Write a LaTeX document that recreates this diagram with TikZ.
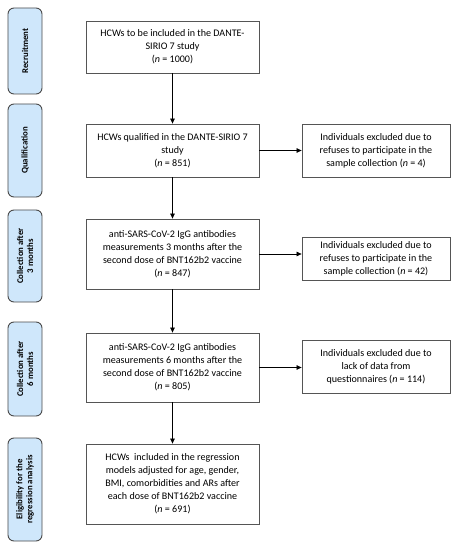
\documentclass[tikz,border=0pt]{standalone}
\usepackage{fontspec}
\setmainfont{Carlito}
\usetikzlibrary{arrows.meta}
\definecolor{sidefill}{HTML}{CFE7FB}
\definecolor{sidedraw}{HTML}{4A4A4A}
\definecolor{boxdraw}{HTML}{555555}
\begin{document}
\begin{tikzpicture}[x=1bp,y=1bp,
  side/.style={draw=sidedraw, line width=0.9bp, fill=sidefill, rounded corners=6bp,
    rotate=90, minimum height=34bp, inner sep=0pt, align=center,
    font=\fontsize{8.8}{10}\selectfont\bfseries},
  mainbox/.style={draw=boxdraw, line width=0.8bp, minimum width=173bp, inner sep=0pt,
    align=center, font=\fontsize{10.1}{13}\selectfont},
  exbox/.style={draw=boxdraw, line width=0.8bp, minimum width=148bp, inner sep=0pt,
    align=center, font=\fontsize{10.1}{13}\selectfont},
  arr/.style={-{Triangle[length=5bp,width=4.5bp]}, line width=0.7bp, black}]
\useasboundingbox (0,0) rectangle (454,-550);
% side labels
\node[side, minimum width=86bp] (s1) at (25,-51) {Recruitment};
\node[side, minimum width=93bp] (s2) at (25,-150.5) {Qualification};
\node[side, minimum width=92bp] (s3) at (25,-256) {Collection after\\3 months};
\node[side, minimum width=94bp] (s4) at (25,-369) {Collection after\\6 months};
\node[side, minimum width=103bp] (s5) at (25,-489.5) {Eligibility for the\\regression analysis};
% main boxes
\node[mainbox, minimum height=52bp] (b1) at (172.5,-47) {HCWs to be included in the DANTE-\\SIRIO 7 study\\(\textit{n} = 1000)};
\node[mainbox, minimum height=53bp] (b2) at (172.5,-150.5) {HCWs qualified in the DANTE-SIRIO 7\\study\\(\textit{n} = 851)};
\node[mainbox, minimum height=70bp] (b3) at (172.5,-254) {anti-SARS-CoV-2 IgG antibodies\\measurements 3 months after the\\second dose of BNT162b2 vaccine\\(\textit{n} = 847)};
\node[mainbox, minimum height=69bp] (b4) at (172.5,-367.5) {anti-SARS-CoV-2 IgG antibodies\\measurements 6 months after the\\second dose of BNT162b2 vaccine\\(\textit{n} = 805)};
\node[mainbox, minimum height=80bp] (b5) at (172.5,-484) {HCWs\ \ included in the regression\\models adjusted for age, gender,\\BMI, comorbidities and ARs after\\each dose of BNT162b2 vaccine\\(\textit{n} = 691)};
% exclusion boxes
\node[exbox, minimum height=53bp] (e1) at (376,-150.5) {Individuals excluded due to\\refuses to participate in the\\sample collection (\textit{n} = 4)};
\node[exbox, minimum height=43bp] (e2) at (376,-258.5) {Individuals excluded due to\\refuses to participate in the\\sample collection (\textit{n} = 42)};
\node[exbox, minimum height=53bp] (e3) at (376,-366.5) {Individuals excluded due to\\lack of data from\\questionnaires (\textit{n} = 114)};
% arrows
\draw[arr] (b1) -- (b2);
\draw[arr] (b2) -- (b3);
\draw[arr] (b3) -- (b4);
\draw[arr] (b4) -- (b5);
\draw[arr] (b2.east) -- (b2.east -| e1.west);
\draw[arr] (b3.east) -- (b3.east -| e2.west);
\draw[arr] (b4.east) -- (b4.east -| e3.west);
\end{tikzpicture}
\end{document}
